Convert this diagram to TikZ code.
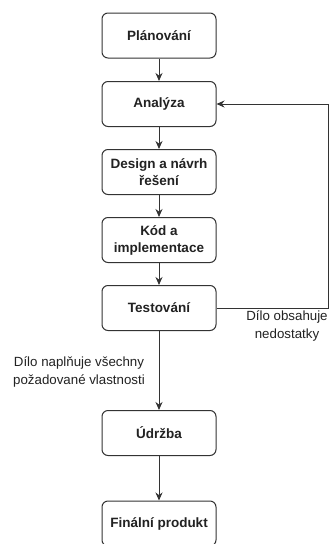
\documentclass[tikz,border=0pt]{standalone}
\usepackage{fontspec}
\setmainfont{Liberation Sans}
\usetikzlibrary{arrows.meta}
\definecolor{ln}{HTML}{333333}
\definecolor{tx}{HTML}{222222}
\begin{document}
\begin{tikzpicture}[x=1pt,y=-1pt,
  box/.style={draw=ln, line width=1pt, rounded corners=6pt, minimum width=114pt, minimum height=45pt,
    align=center, inner sep=2pt, text=tx, font=\bfseries\fontsize{13.5}{17}\selectfont},
  lbl/.style={align=center, text=tx, inner sep=0pt, font=\fontsize{13.3}{17.5}\selectfont},
  conn/.style={draw=ln, line width=1pt, -{Stealth[length=8pt,width=7pt]}}]
\useasboundingbox (0,0) rectangle (331,544);
\fill[white] (0,0) rectangle (331,544);
\node[box] (plan) at (159,35.5) {Plánování};
\node[box] (anal) at (159,104) {Analýza};
\node[box] (des) at (159,172) {Design a návrh\\řešení};
\node[box] (kod) at (159,240) {Kód a\\implementace};
\node[box] (test) at (159,308) {Testování};
\node[box] (udr) at (159,433) {Údržba};
\node[box] (fin) at (159,523.5) {Finální produkt};
\coordinate (c1) at (328,308);
\coordinate (c2) at (328,104);
\draw[conn] (plan) -- (anal);
\draw[conn] (anal) -- (des);
\draw[conn] (des) -- (kod);
\draw[conn] (kod) -- (test);
\draw[conn] (test) -- (udr);
\draw[conn] (udr) -- (fin);
\draw[conn] (test.east) -- (c1) -- (c2) -- (anal.east);
\node[lbl] (l1) at (287,326) {Dílo obsahuje\\nedostatky};
\node[lbl] (l2) at (79,372) {Dílo naplňuje všechny\\požadované vlastnosti};
\end{tikzpicture}
\end{document}
